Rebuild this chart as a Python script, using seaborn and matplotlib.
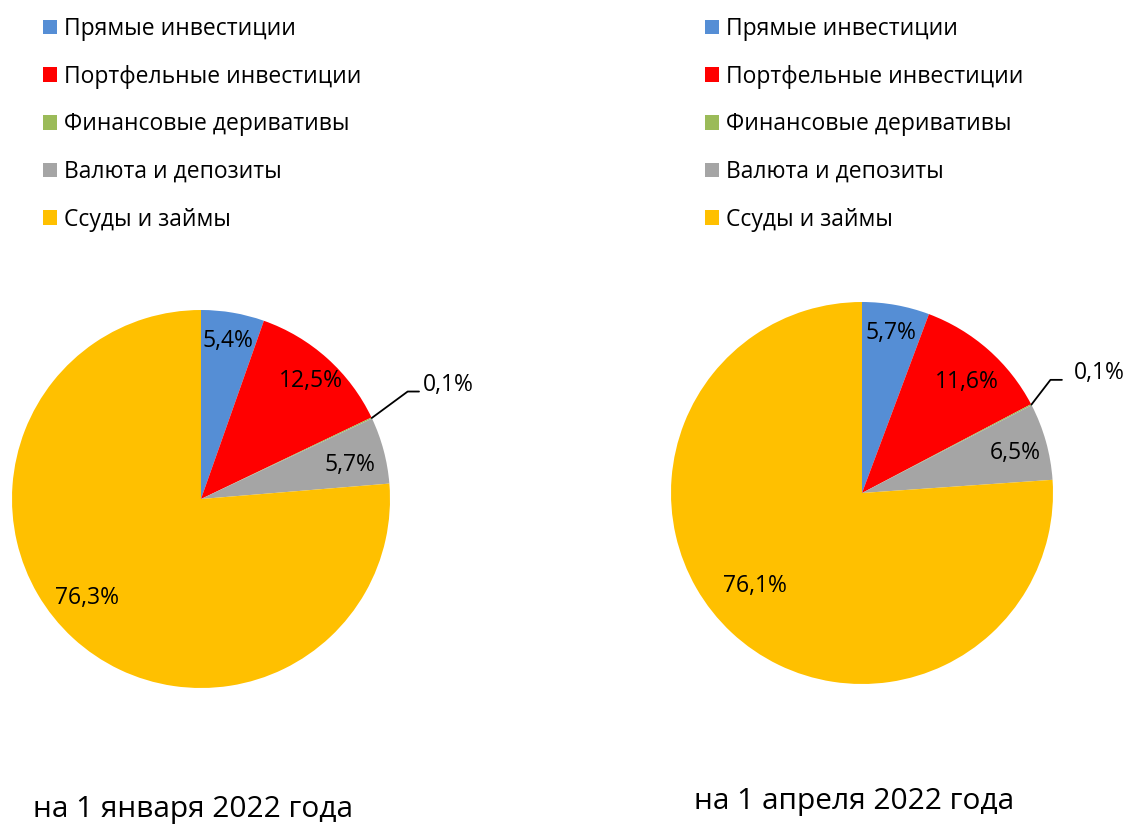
import numpy as np
import matplotlib.pyplot as plt
import seaborn as sns

# data
categories = ['Прямые инвестиции', 'Портфельные инвестиции', 'Финансовые деривативы',
              'Валюта и депозиты', 'Ссуды и займы']
jan_2022 = [5.4, 12.5, 0.1, 5.7, 76.3]
apr_2022 = [5.7, 11.6, 0.1, 6.5, 76.1]
titles = ['на 1 января 2022 года', 'на 1 апреля 2022 года']
palette = ['#558ED5', '#FF0000', '#9BBB59', '#A5A5A5', '#FFC000']

sns.set_theme(style='white')
plt.rcParams['font.family'] = ['Open Sans', 'DejaVu Sans']
plt.rcParams['text.color'] = 'black'

W, H = 1130, 824
fig = plt.figure(figsize=(W / 100, H / 100), dpi=100)


def px_axes(cx, cy, r):
    return fig.add_axes([(cx - r) / W, (H - cy - r) / H, 2 * r / W, 2 * r / H])


def fmt(v):
    return f'{v:.1f}'.replace('.', ',') + '%'


panels = [
    # centre x, centre y, radius (px), legend x, title y, label placement
    dict(cx=201, cy=499, r=189, leg_x=34, title_y=810, values=jan_2022,
         elbow=(0.19, 0.14), tail=0.06, gap=0.02,
         dists=[0.85, 0.85, 0, 0.81, 0.8], turn=[0, -1, 0, -2, -6.5]),
    dict(cx=862, cy=493, r=191, leg_x=696, title_y=802, values=apr_2022,
         elbow=(0.10, 0.13), tail=0.06, gap=0.065,
         dists=[0.85, 0.80, 0, 0.83, 0.74], turn=[0, -2, 0, -1, -6]),
]

for p, title in zip(panels, titles):
    ax = px_axes(p['cx'], p['cy'], p['r'])
    wedges, _ = ax.pie(p['values'], colors=palette, startangle=90, counterclock=False,
                       radius=1, wedgeprops=dict(linewidth=0))
    ax.set_xlim(-1, 1)
    ax.set_ylim(-1, 1)
    ax.set_aspect('equal')
    ax.axis('off')

    for w, v, d, t in zip(wedges, p['values'], p['dists'], p['turn']):
        mid = np.deg2rad((w.theta1 + w.theta2) / 2 + t)
        if v < 1:
            # tiny slice: leader line from the rim
            x0, y0 = np.cos(mid), np.sin(mid)
            x1, y1 = x0 + p['elbow'][0], y0 + p['elbow'][1]
            x2 = x1 + p['tail']
            ax.plot([x0, x1, x2], [y0, y1, y1], color='black', lw=1.3, clip_on=False)
            ax.text(x2 + p['gap'], y1 + 0.035, fmt(v), ha='left', va='center',
                    fontsize=16.5, color='black', clip_on=False)
        else:
            ax.text(d * np.cos(mid), d * np.sin(mid), fmt(v), ha='center', va='center',
                    fontsize=16.5, color='black')

    fig.legend(wedges, categories, loc='upper left',
               bbox_to_anchor=(p['leg_x'] / W, 1 - 8 / H), frameon=False,
               fontsize=16.5, handlelength=0.6, handleheight=0.6, handletextpad=0.3,
               labelspacing=1.03, borderaxespad=0)

    fig.text((p['cx'] - 8) / W, 1 - p['title_y'] / H, title,
             ha='center', va='center', fontsize=21.5, color='black')

fig.savefig('out.png', dpi=100)
